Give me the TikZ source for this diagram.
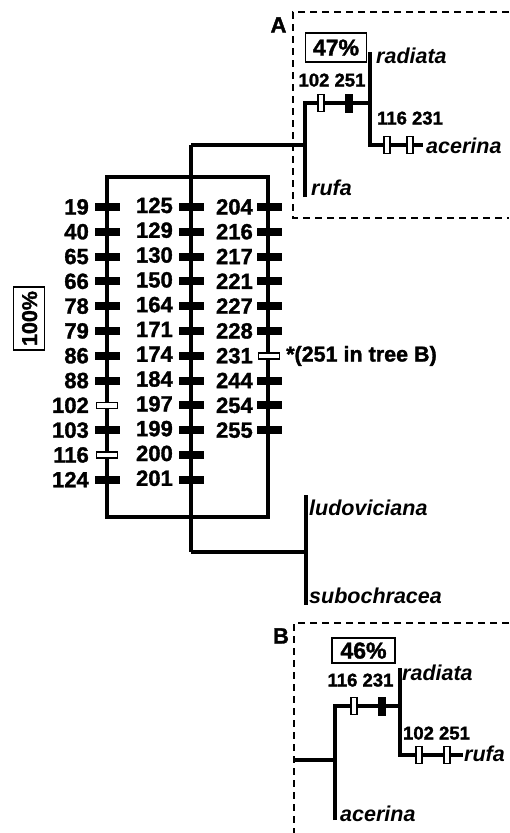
\documentclass[tikz,border=0pt]{standalone}
\usepackage{fontspec}
\setmainfont{Liberation Sans}[BoldFeatures={FakeBold=1.5}]
\begin{document}
\begin{tikzpicture}[x=1pt,y=-1pt,
  br/.style={line width=3.2pt},
  fmark/.style={rectangle,fill=black,draw=none,minimum width=25pt,minimum height=8pt,inner sep=0pt},
  omark/.style={rectangle,fill=white,draw=black,line width=1.8pt,minimum width=21pt,minimum height=6pt,inner sep=0pt},
  vfmark/.style={rectangle,fill=black,draw=none,minimum width=7.5pt,minimum height=19pt,inner sep=0pt},
  vomark/.style={rectangle,fill=white,draw=black,line width=1.8pt,minimum width=6pt,minimum height=17pt,inner sep=0pt},
  num/.style={font=\bfseries\fontsize{22}{22}\selectfont,inner sep=0pt,text height=15pt,text depth=0pt},
  snum/.style={font=\bfseries\fontsize{18.5}{18.5}\selectfont,inner sep=0pt,text height=13pt,text depth=0pt},
  sp/.style={font=\bfseries\itshape\fontsize{21.5}{21.5}\selectfont,inner sep=0pt,text height=15pt,text depth=0pt,anchor=west},
  pct/.style={draw=black,line width=1.8pt,font=\bfseries\fontsize{23}{23}\selectfont,inner sep=0pt,text height=16pt,text depth=0pt},
  dbox/.style={dash pattern=on 7pt off 5pt,line width=2.6pt}
]
\useasboundingbox (0,0) rectangle (509,833);

% ---------- main clade ----------
\coordinate (top) at (191,145);
\coordinate (bot) at (191,552);
\coordinate (bl) at (107,517);
\coordinate (tr) at (268,177);
\draw[br] (top) -- (bot);
\draw[br] (bl) rectangle (tr);

\foreach \t/\k [count=\i from 0] in {19/f,40/f,65/f,66/f,78/f,79/f,86/f,88/f,102/o,103/f,116/o,124/f}{
  \pgfmathsetmacro{\yy}{207+24.8*\i}
  \node[\k mark] (L\i) at (107,\yy) {};
  \node[num,anchor=east] (Ll\i) at (89,\yy) {\t};
}
\foreach \t [count=\i from 0] in {125,129,130,150,164,171,174,184,197,199,200,201}{
  \pgfmathsetmacro{\yy}{207+24.8*\i}
  \node[fmark] (M\i) at (191,\yy) {};
  \node[num,anchor=east] (Ml\i) at (173,\yy-1.5) {\t};
}
\foreach \t/\k [count=\i from 0] in {204/f,216/f,217/f,221/f,227/f,228/f,231/o,244/f,254/f,255/f}{
  \pgfmathsetmacro{\yy}{207+24.8*\i}
  \node[\k mark] (R\i) at (269,\yy) {};
  \node[num,anchor=east] (Rl\i) at (253,\yy) {\t};
}
\node[num,anchor=west,font=\bfseries\fontsize{21.5}{21.5}\selectfont] (note) at (286,354) {*(251 in tree B)};
\node[pct,rotate=90,minimum width=63pt,minimum height=31pt,font=\bfseries\fontsize{21.5}{21.5}\selectfont] (p100) at (29,318.5) {100\%};

% ---------- clade A ----------
\draw[dbox] (509,12) -- (293,12) -- (293,218) -- (509,218);
\node[num] (labA) at (278.5,25) {A};
\coordinate (Aj) at (305,145);
\coordinate (Ab) at (305,197);
\coordinate (Ac) at (370,103);
\coordinate (Ar) at (370,52);
\coordinate (Ad) at (370,145);
\coordinate (Ae) at (423,145);
\draw[br] (top) -- (Aj);
\draw[br] (Ab) |- (Ac);
\draw[br] (Ar) -- (Ad) -- (Ae);
\node[vomark] (A1) at (321,103) {};
\node[vfmark] (A2) at (349,103) {};
\node[vomark] (A3) at (387,145) {};
\node[vomark] (A4) at (410,145) {};
\node[snum] (Al1) at (332,80) {102 251};
\node[snum] (Al3) at (410,118) {116 231};
\node[pct,minimum width=61pt,minimum height=29pt] (p47) at (336,47.5) {47\%};
\node[sp] (Arad) at (376,55.5) {radiata};
\node[sp] (Aruf) at (311,188) {rufa};
\node[sp] (Aace) at (426,146) {acerina};

% ---------- ludoviciana / subochracea ----------
\coordinate (Bj) at (306,552);
\coordinate (Lt) at (306,495);
\coordinate (Lb) at (306,605);
\draw[br] (bot) -- (Bj);
\draw[br] (Lt) -- (Lb);
\node[sp] (lud) at (309,508) {ludoviciana};
\node[sp] (sub) at (309,596) {subochracea};

% ---------- clade B ----------
\draw[dbox] (509,623) -- (294,623) -- (294,833);
\node[num] (labB) at (281,636) {B};
\coordinate (Bs) at (294,760);
\coordinate (Be) at (335,760);
\coordinate (Bab) at (335,820);
\coordinate (Bc) at (400,706);
\coordinate (Br) at (400,668);
\coordinate (Bd) at (400,755);
\coordinate (Bf) at (463,755);
\draw[br] (Bs) -- (Be);
\draw[br] (Bab) |- (Bc);
\draw[br] (Br) -- (Bd) -- (Bf);
\node[vomark] (B1) at (354,706) {};
\node[vfmark] (B2) at (382,706) {};
\node[vomark] (B3) at (419,755) {};
\node[vomark] (B4) at (447,755) {};
\node[snum] (Bl1) at (360.5,680) {116 231};
\node[snum] (Bl3) at (436.5,733) {102 251};
\node[pct,minimum width=63pt,minimum height=25pt] (p46) at (363.5,650.5) {46\%};
\node[sp] (Brad) at (402,673) {radiata};
\node[sp] (Bruf) at (464,754) {rufa};
\node[sp] (Bace) at (340,814) {acerina};
\end{tikzpicture}
\end{document}
